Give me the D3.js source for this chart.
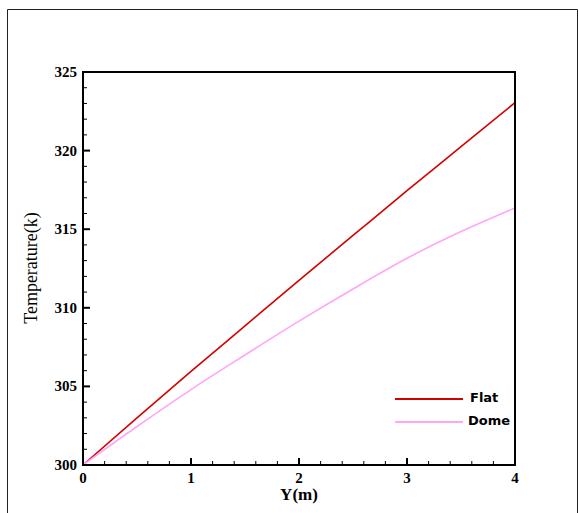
<!DOCTYPE html>
<html><head><meta charset="utf-8">
<script src="https://cdn.jsdelivr.net/npm/d3@7"></script>
<style>body{margin:0;background:#fff}svg{display:block}</style>
</head><body>
<script>
const xValues = [0, 0.5, 1, 1.5, 2, 2.5, 3, 3.5, 4];
const flatValues = [300, 303.0, 305.95, 308.85, 311.75, 314.6, 317.45, 320.25, 323.05];
const domeValues = [300, 302.45, 304.8, 307.0, 309.15, 311.2, 313.15, 314.85, 316.35];
const seriesNames = ["Flat", "Dome"];
const seriesColors = ["#d40000", "#ffa6f8"];
const xTickLabels = ["0", "1", "2", "3", "4"];
const yTickLabels = ["300", "305", "310", "315", "320", "325"];

const W = 579, H = 513;
const m = {left: 83, top: 72, right: 515, bottom: 465};
const svg = d3.select("body").append("svg").attr("width", W).attr("height", H);

svg.append("path").attr("d", `M7.5,${H+2} V9.5 H577.5 V${H+2}`)
  .attr("fill", "none").attr("stroke", "#222").attr("stroke-width", 1);

const x = d3.scaleLinear().domain([0, 4]).range([m.left, m.right]);
const y = d3.scaleLinear().domain([300, 325]).range([m.bottom, m.top]);

const g = svg.append("g");
d3.range(0, 4.0001, 0.2).forEach(v => {
  const major = Math.abs(v - Math.round(v)) < 1e-6;
  g.append("line").attr("x1", x(v)).attr("x2", x(v))
    .attr("y1", m.bottom).attr("y2", m.bottom - (major ? 7 : 4))
    .attr("stroke", "#000").attr("stroke-width", major ? 2 : 1);
});
d3.range(300, 325.0001, 1).forEach(v => {
  const major = v % 5 === 0;
  g.append("line").attr("y1", y(v)).attr("y2", y(v))
    .attr("x1", m.left).attr("x2", m.left + (major ? 7 : 4))
    .attr("stroke", "#000").attr("stroke-width", major ? 2 : 1);
});

xTickLabels.forEach(t => {
  svg.append("text").attr("x", x(+t)).attr("y", m.bottom + 18)
    .attr("text-anchor", "middle").attr("font-family", "Liberation Serif, serif")
    .attr("font-weight", "bold").attr("font-size", 15).text(t);
});
yTickLabels.forEach(t => {
  svg.append("text").attr("x", m.left - 6).attr("y", y(+t) + 5)
    .attr("text-anchor", "end").attr("font-family", "Liberation Serif, serif")
    .attr("font-weight", "bold").attr("font-size", 15).text(t);
});

const line = d3.line().curve(d3.curveMonotoneX).x((d, i) => x(xValues[i])).y(d => y(d));
[flatValues, domeValues].forEach((vals, i) => {
  svg.append("path").datum(vals).attr("d", line)
    .attr("fill", "none").attr("stroke", seriesColors[i]).attr("stroke-width", 1.6);
});

svg.append("rect").attr("x", m.left).attr("y", m.top)
  .attr("width", m.right - m.left).attr("height", m.bottom - m.top)
  .attr("fill", "none").attr("stroke", "#000").attr("stroke-width", 2);

svg.append("text").attr("x", (m.left + m.right) / 2).attr("y", 500)
  .attr("text-anchor", "middle").attr("font-family", "Liberation Serif, serif")
  .attr("font-weight", "bold").attr("font-size", 17).text("Y(m)");
svg.append("text").attr("transform", `translate(37,${268}) rotate(-90)`)
  .attr("text-anchor", "middle").attr("font-family", "Liberation Serif, serif")
  .attr("font-size", 18).text("Temperature(k)");

const legY = [399, 422];
seriesNames.forEach((n, i) => {
  svg.append("line").attr("x1", 395).attr("x2", 463).attr("y1", legY[i]).attr("y2", legY[i])
    .attr("stroke", seriesColors[i]).attr("stroke-width", 2.2);
  svg.append("text").attr("x", i === 0 ? 470 : 468).attr("y", legY[i] + 3)
    .attr("font-family", "DejaVu Sans, sans-serif").attr("font-weight", "bold")
    .attr("font-size", 13).text(n);
});
</script>
</body></html>
